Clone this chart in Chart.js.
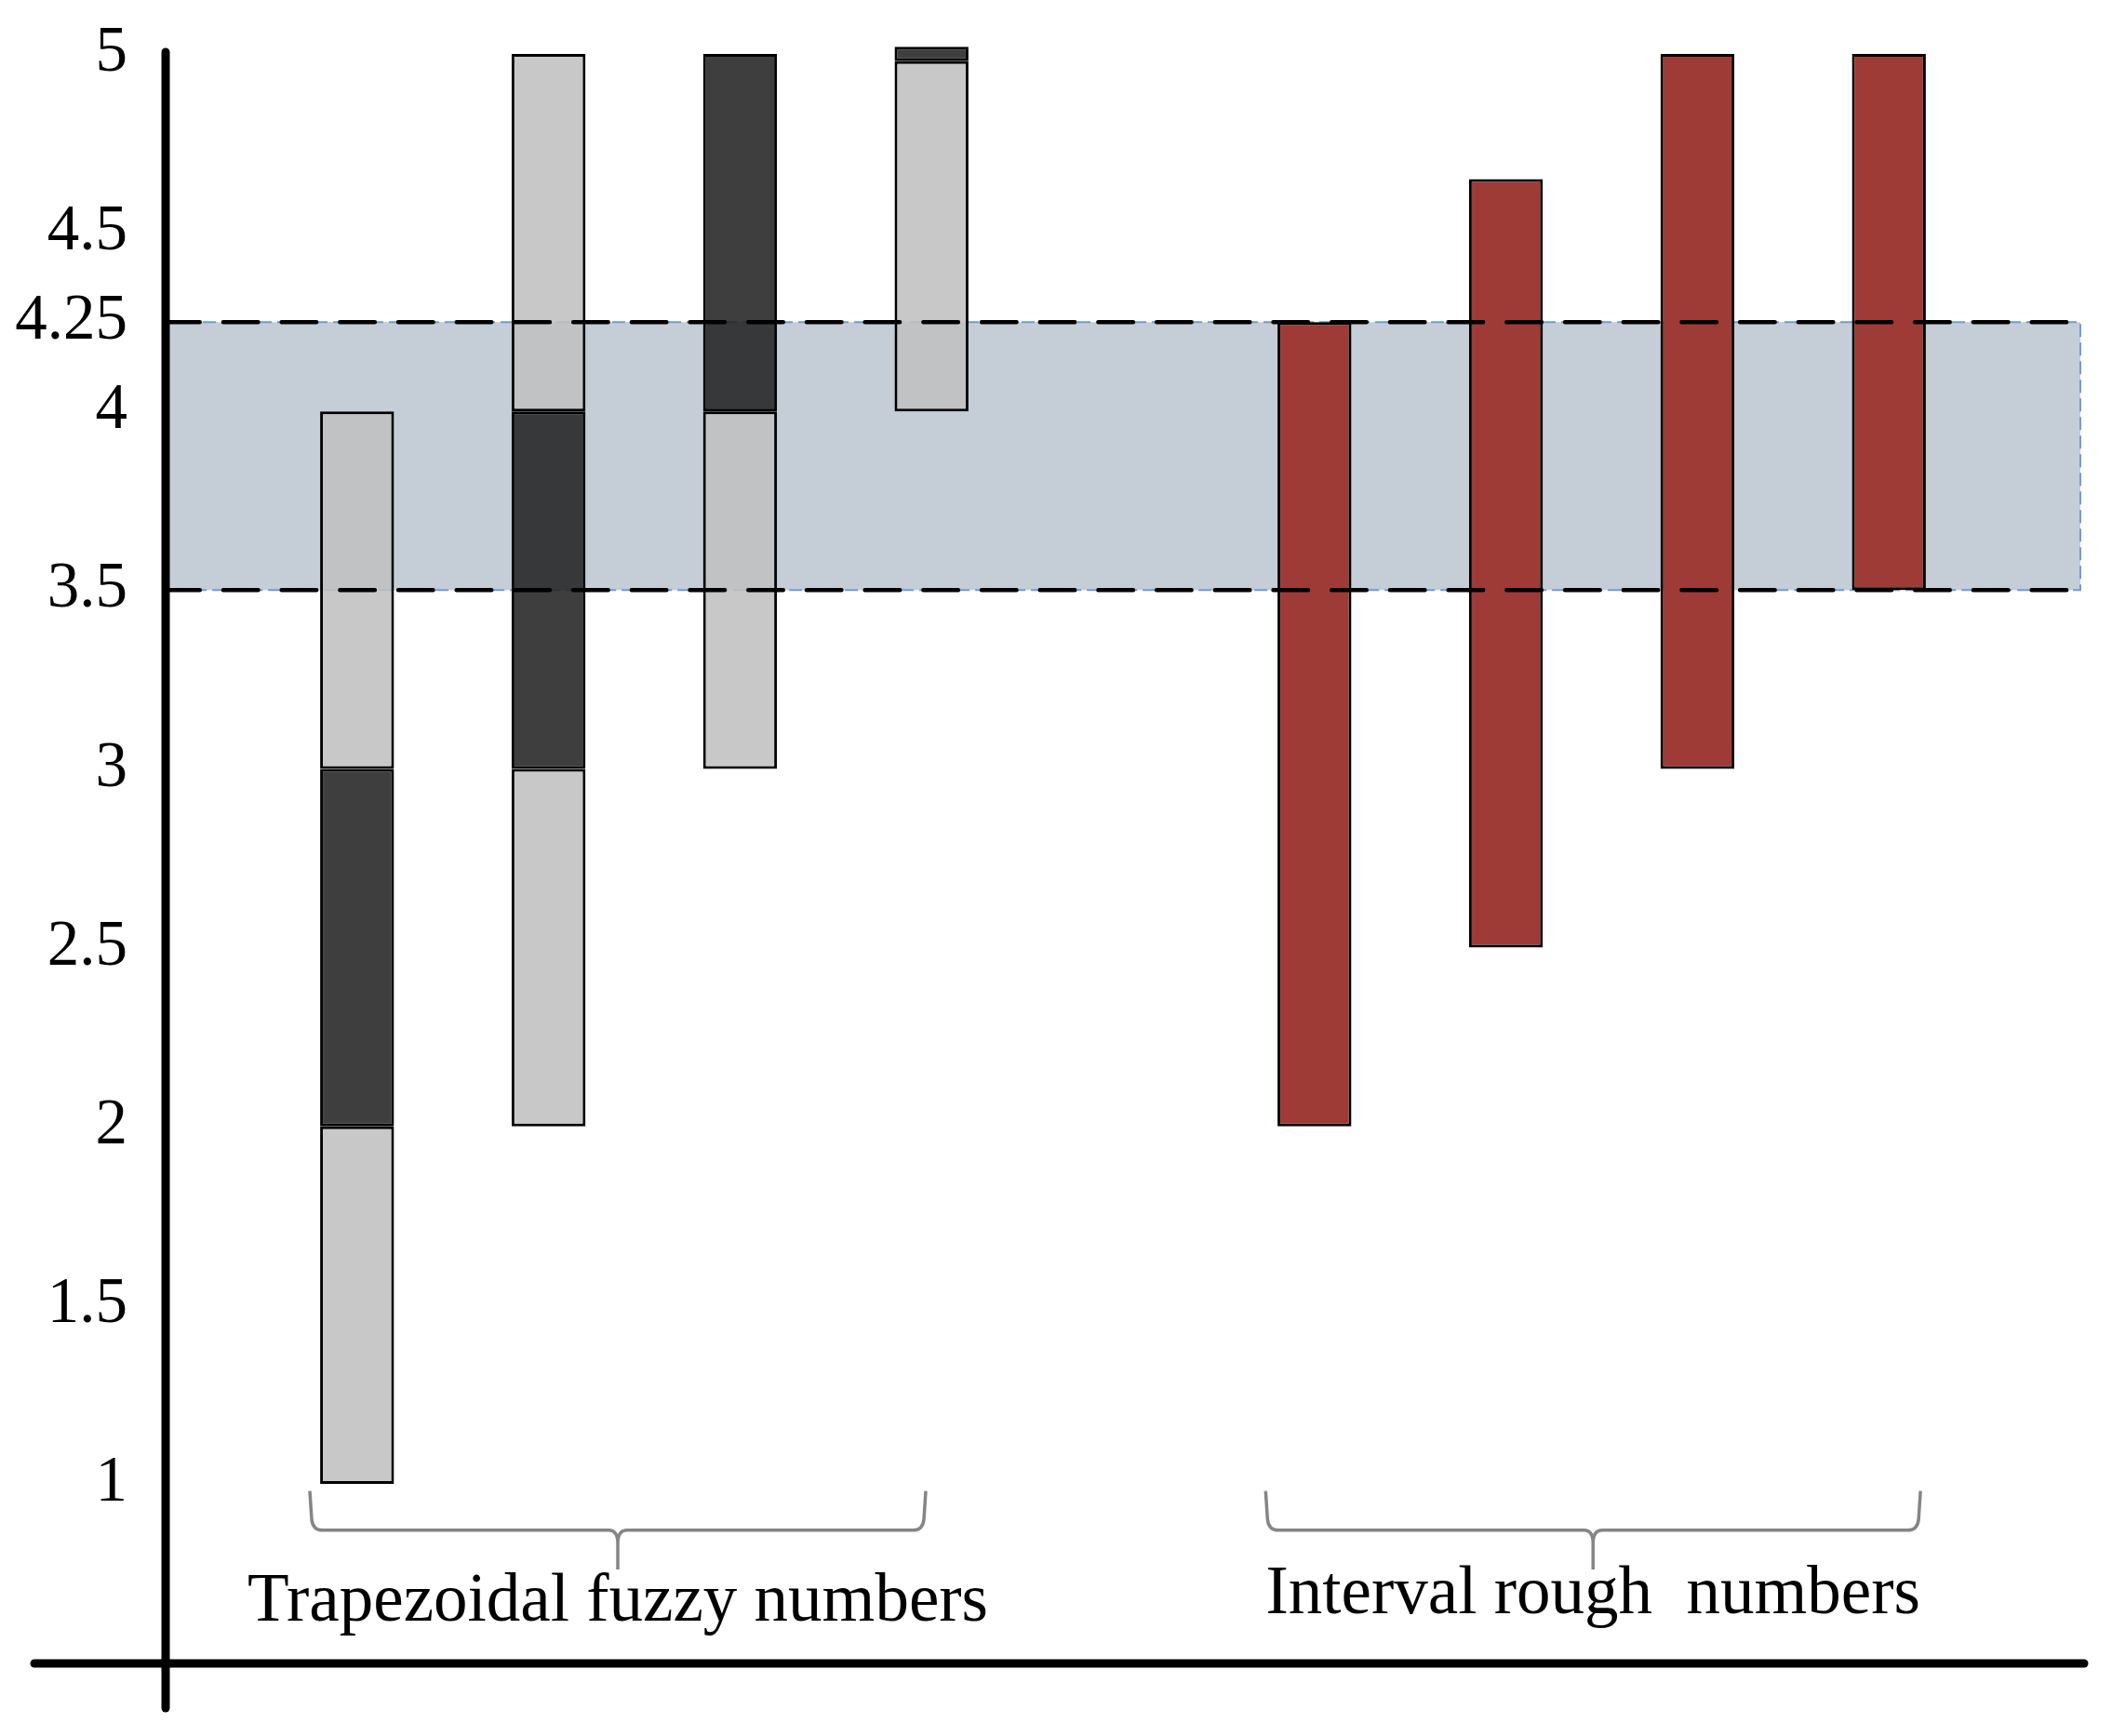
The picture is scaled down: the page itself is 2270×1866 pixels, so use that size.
<!DOCTYPE html>
<html>
<head>
<meta charset="utf-8">
<script src="https://cdn.jsdelivr.net/npm/chart.js@4.4.1/dist/chart.umd.min.js"></script>
<style>
    body { margin: 0; background: #ffffff; }
    #grafica { display: block; }
</style>
</head>
<body>
<canvas id="grafica" width="2270" height="1866"></canvas>
<script>

// categorias (huecos vacios al principio, entre grupos y al final)
const categorias = ['', 'TFN 1', 'TFN 2', 'TFN 3', 'TFN 4', '', 'IRN 1', 'IRN 2', 'IRN 3', 'IRN 4', ''];

// numeros difusos trapezoidales: soporte inferior, nucleo, soporte superior
const difusoInferior = [null, [1, 2], [2, 3], [3, 4], [4, 4.98], null, null, null, null, null, null];
const difusoNucleo = [null, [2, 3], [3, 4], [4, 5], [4.98, 5.02], null, null, null, null, null, null];
const difusoSuperior = [null, [3, 4], [4, 5], null, null, null, null, null, null, null, null];

// numeros aproximados de intervalo
const intervalosRough = [null, null, null, null, null, null, [2, 4.25], [2.5, 4.65], [3, 5], [3.5, 5], null];

// banda de referencia
const banda = [3.5, 4.25];

// marcas del eje y
const valoresTicks = [1, 1.5, 2, 2.5, 3, 3.5, 4, 4.25, 4.5, 5];
const etiquetasTicks = ['1', '1.5', '2', '2.5', '3', '3.5', '4', '4.25', '4.5', '5'];

// grupos debajo de las barras
const gruposTexto = ['Trapezoidal fuzzy numbers', 'Interval rough  numbers'];
const gruposRango = [[0.753, 3.97], [5.745, 9.165]];
const gruposBase = [0.617, 0.638];

const fuente = "'Liberation Serif', 'Times New Roman', serif";

const pluginDibujo = {
    id: 'dibujo',
    beforeDatasetsDraw(chart) {
        const { ctx, chartArea, scales: { y } } = chart;
        const yArriba = y.getPixelForValue(banda[1]);
        const yAbajo = y.getPixelForValue(banda[0]);
        ctx.save();
        ctx.fillStyle = '#c5cdd6';
        ctx.fillRect(chartArea.left, yArriba, chartArea.right - chartArea.left, yAbajo - yArriba);
        ctx.strokeStyle = '#6f9bd8';
        ctx.lineWidth = 2;
        ctx.setLineDash([14, 6]);
        ctx.strokeRect(chartArea.left, yArriba, chartArea.right - chartArea.left, yAbajo - yArriba);
        ctx.restore();
    },
    afterDatasetsDraw(chart) {
        const { ctx, chartArea, scales: { y } } = chart;
        ctx.save();
        ctx.strokeStyle = '#000000';
        ctx.lineWidth = 4.5;
        ctx.lineCap = 'round';
        ctx.setLineDash([37.5, 25.2]);
        banda.forEach(v => {
            const py = y.getPixelForValue(v);
            ctx.beginPath();
            ctx.moveTo(chartArea.left - 0.75, py);
            ctx.lineTo(chartArea.right, py);
            ctx.stroke();
        });
        ctx.restore();
    },
    afterDraw(chart) {
        const { ctx, chartArea, scales: { x, y } } = chart;
        ctx.save();

        // ejes
        ctx.strokeStyle = '#000000';
        ctx.lineWidth = 9;
        ctx.lineCap = 'round';
        ctx.beginPath();
        ctx.moveTo(chartArea.left, y.getPixelForValue(5) - 2);
        ctx.lineTo(chartArea.left, chartArea.bottom + 49);
        ctx.stroke();
        ctx.beginPath();
        ctx.moveTo(37, chartArea.bottom + 1);
        ctx.lineTo(chartArea.right + 4, chartArea.bottom + 1);
        ctx.stroke();

        // llaves y textos
        const yTope = y.getPixelForValue(0.98);
        const yMedio = y.getPixelForValue(0.87);
        const yPunta = y.getPixelForValue(0.76);
        ctx.strokeStyle = '#858585';
        ctx.lineWidth = 3.5;
        ctx.lineCap = 'butt';
        ctx.font = '73px ' + fuente;
        ctx.fillStyle = '#000000';
        ctx.textAlign = 'center';
        ctx.textBaseline = 'alphabetic';
        gruposRango.forEach((r, i) => {
            const xi = x.getPixelForValue(r[0]);
            const xd = x.getPixelForValue(r[1]);
            const xc = (xi + xd) / 2;
            ctx.beginPath();
            ctx.moveTo(xi, yTope);
            ctx.lineTo(xi + 2, yMedio - 12);
            ctx.quadraticCurveTo(xi + 3, yMedio, xi + 14, yMedio);
            ctx.lineTo(xc - 10, yMedio);
            ctx.quadraticCurveTo(xc, yMedio, xc, yMedio + 14);
            ctx.lineTo(xc, yPunta);
            ctx.moveTo(xc, yMedio + 14);
            ctx.quadraticCurveTo(xc, yMedio, xc + 10, yMedio);
            ctx.lineTo(xd - 14, yMedio);
            ctx.quadraticCurveTo(xd - 3, yMedio, xd - 2, yMedio - 12);
            ctx.lineTo(xd, yTope);
            ctx.stroke();
            ctx.fillText(gruposTexto[i], xc, y.getPixelForValue(gruposBase[i]));
        });
        ctx.restore();
    }
};

const grafica = new Chart(document.getElementById('grafica'), {
    type: 'bar',
    data: {
        labels: categorias,
        datasets: [{
            label: 'soporte inferior',
            data: difusoInferior,
            backgroundColor: 'rgba(192,192,192,0.88)'
        }, {
            label: 'nucleo',
            data: difusoNucleo,
            backgroundColor: 'rgba(35,35,35,0.88)'
        }, {
            label: 'soporte superior',
            data: difusoSuperior,
            backgroundColor: 'rgba(192,192,192,0.88)'
        }, {
            label: 'rough',
            data: intervalosRough,
            backgroundColor: '#9e3b37'
        }]
    },
    options: {
        responsive: false,
        devicePixelRatio: 1,
        animation: false,
        layout: { padding: { left: 0, right: 34, top: 58, bottom: 79 } },
        datasets: {
            bar: {
                grouped: false,
                clip: false,
                borderColor: '#000000',
                borderWidth: 3,
                borderSkipped: false,
                categoryPercentage: 1,
                barPercentage: 0.386
            }
        },
        plugins: {
            legend: { display: false },
            tooltip: { enabled: false }
        },
        scales: {
            x: {
                display: false,
                offset: false
            },
            y: {
                min: 0.5,
                max: 5,
                grid: { display: false, drawTicks: false },
                border: { display: false },
                afterFit: (escala) => {
                    escala.width = 178;
                    escala.paddingTop = 0;
                    escala.paddingBottom = 0;
                },
                afterBuildTicks: (escala) => {
                    escala.ticks = valoresTicks.map(v => ({ value: v }));
                },
                ticks: {
                    padding: 41,
                    color: '#000000',
                    font: { family: fuente, size: 69 },
                    callback: (valor) => etiquetasTicks[valoresTicks.indexOf(valor)]
                }
            }
        }
    },
    plugins: [pluginDibujo]
});

</script>
</body>
</html>
